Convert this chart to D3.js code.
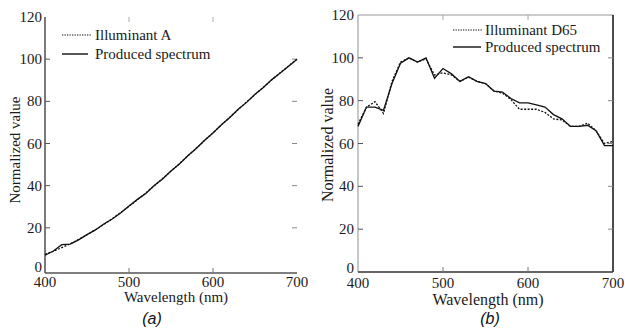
<!DOCTYPE html>
<html><head><meta charset="utf-8">
<script src="https://cdn.jsdelivr.net/npm/d3@7"></script>
<style>body{margin:0;background:#fff}svg{display:block}</style>
</head><body>
<svg id="c" width="625" height="331"></svg>
<script>
const wavelengths = [400,410,420,430,440,450,460,470,480,490,500,510,520,530,540,550,560,570,580,590,600,610,620,630,640,650,660,670,680,690,700];
const illumA = [7.4,8.9,10.6,12.4,14.5,16.7,19.1,21.6,24.3,27.2,30.2,33.3,36.6,39.9,43.4,46.9,50.4,54.1,57.7,61.4,65.1,68.8,72.4,76.1,79.7,83.2,86.7,90.2,93.5,96.8,100];
const producedA = [7.0,9.0,12.0,12.3,14.3,16.8,19.0,21.8,24.2,27.0,30.4,33.5,36.3,40.1,43.2,47.0,50.3,54.2,57.6,61.5,65.0,68.9,72.3,76.2,79.5,83.4,86.6,90.3,93.4,96.6,100];
const illumD65 = [69,77,79.5,74,89,98,100,98,99.5,92,93,92,89,91,89,88,84.5,83.5,80.5,76,76,76,74.5,71.5,71,68,68,69.5,66,60,61];
const producedD65 = [68,77,77,75.5,88,97.5,100,98,100,90.5,95,92.5,89,91.2,89,88,84.5,84,81,79,79,78,77,73.5,71.5,68,68,68.5,66,59,59];
const xTicks = [400,500,600,700];
const yTicks = [0,20,40,60,80,100,120];
const legendA = ["Illuminant A","Produced spectrum"];
const legendB = ["Illuminant D65","Produced spectrum"];
const panelLabels = ["(a)","(b)"];
const xTitle = "Wavelength (nm)";
const yTitle = "Normalized value";

const svg = d3.select("#c");
const SERIF = '"Liberation Serif"';
const SANS = '"Liberation Sans"';

function txt(g, s, size){
  return g.append("text").style("font-family",SERIF).style("font-size",size+"px").attr("fill","#1a1a1a").text(s);
}

function panel(cfg){
  const x = d3.scaleLinear().domain([400,700]).range([cfg.x0,cfg.x1]);
  const y = d3.scaleLinear().domain([0,120]).range([cfg.y0,cfg.y1]);
  const g = svg.append("g");
  if(cfg.top) g.append("line").attr("x1",cfg.x0).attr("x2",cfg.x1).attr("y1",cfg.y1).attr("y2",cfg.y1).attr("stroke",cfg.topColor).attr("stroke-width",1.2);
  if(cfg.right) g.append("line").attr("x1",cfg.x1).attr("x2",cfg.x1).attr("y1",cfg.y1).attr("y2",cfg.axisY).attr("stroke",cfg.rightColor).attr("stroke-width",1.5);
  g.append("line").attr("x1",cfg.x0).attr("x2",cfg.x0).attr("y1",cfg.y1).attr("y2",cfg.axisY).attr("stroke",cfg.leftColor).attr("stroke-width",1.3);
  g.append("line").attr("x1",cfg.x0).attr("x2",cfg.x1).attr("y1",cfg.axisY).attr("y2",cfg.axisY).attr("stroke",cfg.bottomColor).attr("stroke-width",1.3);
  yTicks.forEach(t=>{
    if(t>0 && t<120){
      g.append("line").attr("x1",cfg.x0).attr("x2",cfg.x0+5).attr("y1",y(t)).attr("y2",y(t)).attr("stroke","#555").attr("stroke-width",1);
      g.append("line").attr("x1",cfg.x1).attr("x2",cfg.x1-5).attr("y1",y(t)).attr("y2",y(t)).attr("stroke","#888").attr("stroke-width",1);
    }
    txt(g, t, 15).attr("x",cfg.x0-cfg.ylabGap).attr("y",y(t)+5 - (t===0?cfg.zeroLift:0)).attr("text-anchor","end");
  });
  xTicks.forEach(t=>{
    if(t>400 && t<700){
      g.append("line").attr("x1",x(t)).attr("x2",x(t)).attr("y1",cfg.axisY).attr("y2",cfg.axisY-5).attr("stroke","#777").attr("stroke-width",1);
      g.append("line").attr("x1",x(t)).attr("x2",x(t)).attr("y1",cfg.y1).attr("y2",cfg.y1+5).attr("stroke","#aaa").attr("stroke-width",1);
    }
    txt(g, t, 15).attr("x",x(t)).attr("y",cfg.xlabY).attr("text-anchor","middle");
  });
  txt(g, xTitle, cfg.titleSize).attr("x",cfg.xTitleX).attr("y",cfg.xTitleY).attr("text-anchor","middle");
  txt(g, yTitle, cfg.titleSize).attr("transform",`translate(${cfg.yTitleX},${cfg.yTitleY}) rotate(-90)`).attr("text-anchor","middle");
  g.append("text").style("font-family",SANS).style("font-style","italic").style("font-size","16px")
    .attr("x",cfg.labX).attr("y",324).attr("text-anchor","middle").attr("fill","#111").text(cfg.label);
  const line = d3.line().x((d,i)=>x(wavelengths[i])).y(d=>y(d));
  g.append("path").datum(cfg.solid).attr("d",line).attr("fill","none").attr("stroke","#111").attr("stroke-width",1.3);
  g.append("path").datum(cfg.dotted).attr("d",line).attr("fill","none").attr("stroke","#111").attr("stroke-width",1.3).attr("stroke-dasharray","2,1.5");
  const L = cfg.legend;
  g.append("line").attr("x1",L.x0).attr("x2",L.x1).attr("y1",L.y0).attr("y2",L.y0).attr("stroke","#111").attr("stroke-width",1.1).attr("stroke-dasharray","1.3,1.2");
  g.append("line").attr("x1",L.x0).attr("x2",L.x1s).attr("y1",L.y1).attr("y2",L.y1).attr("stroke","#111").attr("stroke-width",1.4);
  txt(g, L.names[0], 15).attr("x",L.tx).attr("y",L.y0+5);
  txt(g, L.names[1], 15).attr("x",L.tx).attr("y",L.y1+5);
}

panel({x0:45,x1:297,y0:270,y1:17,axisY:273,top:false,right:false,leftColor:"#333",bottomColor:"#555",
  ylabGap:3,zeroLift:3,xlabY:287,titleSize:15,xTitleX:176,xTitleY:302,yTitleX:20,yTitleY:150,labX:152,label:panelLabels[0],
  solid:producedA,dotted:illumA,
  legend:{x0:62,x1:92,x1s:88,y0:35,y1:54,tx:95,names:legendA}});
panel({x0:358,x1:613,y0:272,y1:15,axisY:272,top:true,right:true,topColor:"#999",rightColor:"#111",leftColor:"#aaa",bottomColor:"#333",
  ylabGap:4,zeroLift:4,xlabY:288,titleSize:16,xTitleX:488,xTitleY:305,yTitleX:333,yTitleY:145,labX:490,label:panelLabels[1],
  solid:producedD65,dotted:illumD65,
  legend:{x0:453,x1:482,x1s:481,y0:30,y1:47,tx:485,names:legendB}});
</script>
</body></html>
